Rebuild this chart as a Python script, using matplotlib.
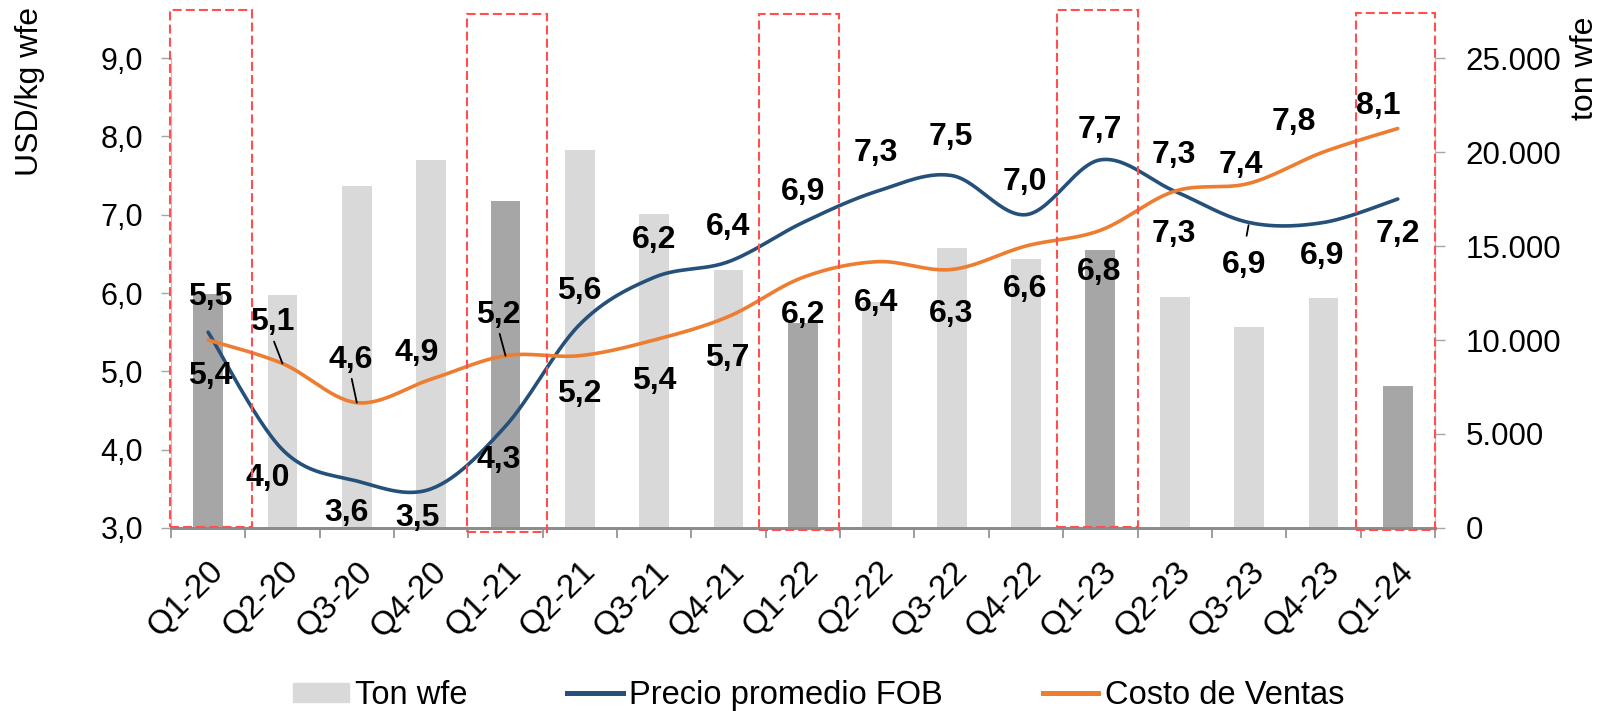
import numpy as np
import matplotlib
matplotlib.use('Agg')
import matplotlib.pyplot as plt
from matplotlib.patches import Rectangle, Patch
from matplotlib.lines import Line2D

plt.rcParams['font.family'] = ['Liberation Sans', 'DejaVu Sans']

# data
trimestres = ['Q1-20', 'Q2-20', 'Q3-20', 'Q4-20', 'Q1-21', 'Q2-21', 'Q3-21', 'Q4-21',
              'Q1-22', 'Q2-22', 'Q3-22', 'Q4-22', 'Q1-23', 'Q2-23', 'Q3-23', 'Q4-23', 'Q1-24']
ton_wfe = [12450, 12400, 18200, 19600, 17400, 20100, 16700, 13700,
           10900, 12000, 14900, 14300, 14800, 12300, 10700, 12250, 7550]
precio_fob = [5.5, 4.0, 3.6, 3.5, 4.3, 5.6, 6.2, 6.4, 6.9, 7.3, 7.5, 7.0, 7.7, 7.3, 6.9, 6.9, 7.2]
costo_ventas = [5.4, 5.1, 4.6, 4.9, 5.2, 5.2, 5.4, 5.7, 6.2, 6.4, 6.3, 6.6, 6.8, 7.3, 7.4, 7.8, 8.1]

# label offsets in pixels (dx, dy)
off_fob = [(2, 35), (-15, -28), (-10, -32), (-14, -29), (-7, -34), (-1, 33), (0, 37), (-1, 35),
           (0, 31), (-1, 38), (-1, 39), (-1, 33), (-1, 30), (-1, -43), (-5, -42), (-1, -33), (0, -35)]
off_costo = [(2, -36), (-10, 41), (-6, 43), (-14, 26), (-7, 41), (-1, -38), (0, -41), (-1, -41),
             (0, -38), (-1, -41), (-1, -44), (-1, -43), (-1, -42), (-1, 36), (-8, 18), (-30, 30), (-20, 23)]
# leader lines: index -> (shrink at text, shrink at line) in points
leader_fob = {14: (8, 2)}
leader_costo = {1: (1, 0), 2: (1, 0), 4: (1, 0)}

# red highlight boxes: (category, left, right, bottom, top)
cajas = [(0, -0.51, 0.59, 3.01, 9.61), (4, -0.52, 0.56, 2.95, 9.56), (8, -0.59, 0.49, 2.98, 9.56),
         (12, -0.58, 0.50, 3.01, 9.61), (16, -0.56, 0.50, 2.98, 9.58)]

azul = '#24507a'
naranja = '#ed7d31'
gris_claro = '#d9d9d9'
gris_oscuro = '#a6a6a6'
rojo = '#ff4f4f'


def suavizar(x, y, n=30):
    # excel-like smoothed line (bezier through points)
    pts = np.column_stack([x, y]).astype(float)
    P = np.vstack([pts[0], pts, pts[-1]])
    out = []
    t = np.linspace(0, 1, n)[:, None]
    for i in range(1, len(P) - 2):
        p0, p1, p2, p3 = P[i - 1], P[i], P[i + 1], P[i + 2]
        c1 = p1 + (p2 - p0) / 6
        c2 = p2 - (p3 - p1) / 6
        out.append((1 - t) ** 3 * p1 + 3 * (1 - t) ** 2 * t * c1 + 3 * (1 - t) * t ** 2 * c2 + t ** 3 * p2)
    return np.vstack(out)


x = np.arange(len(trimestres))

fig = plt.figure(figsize=(15.99, 7.11), dpi=100)
ax = fig.add_axes([0.1069, 0.2574, 0.7905, 0.661])
ax2 = ax.twinx()

colores = [gris_oscuro if t.startswith('Q1') else gris_claro for t in trimestres]
ax2.bar(x, ton_wfe, width=0.4, color=colores, zorder=1)
ax2.set_ylim(0, 25000)
ax2.set_yticks(np.arange(0, 25001, 5000))
ax2.set_yticklabels([f'{v:,}'.replace(',', '.') for v in range(0, 25001, 5000)])

ax.set_zorder(ax2.get_zorder() + 1)
ax.patch.set_visible(False)

s = suavizar(x, precio_fob)
ax.plot(s[:, 0], s[:, 1], color=azul, lw=2.6, solid_capstyle='round')
s = suavizar(x, costo_ventas)
ax.plot(s[:, 0], s[:, 1], color=naranja, lw=2.6, solid_capstyle='round')

ax.set_xlim(-0.5, len(x) - 0.5)
ax.set_ylim(3, 9)
ax.set_yticks(np.arange(3, 9.01, 1))
ax.set_yticklabels([f'{v:.1f}'.replace('.', ',') for v in np.arange(3, 9.01, 1)])

for serie, offs, leaders in [(precio_fob, off_fob, leader_fob), (costo_ventas, off_costo, leader_costo)]:
    for i, v in enumerate(serie):
        dx, dy = offs[i]
        kw = {}
        if i in leaders:
            sa, sb = leaders[i]
            kw['arrowprops'] = dict(arrowstyle='-', color='black', lw=1.3, shrinkA=sa, shrinkB=sb,
                                    relpos=(0.5, 0.0) if dy > 0 else (0.5, 1.0))
        ax.annotate(f'{v:.1f}'.replace('.', ','), xy=(i, v), xytext=(dx, dy),
                    textcoords='offset pixels', ha='center', va='center',
                    fontsize=23, fontweight='bold', color='black', **kw)

for i, l, r, b, t in cajas:
    ax.add_patch(Rectangle((i + l, b), r - l, t - b, fill=False, edgecolor=rojo,
                           lw=1.5, ls=(0, (4.3, 2)), clip_on=False, zorder=5))

# axes styling
ax.set_xticks(np.arange(-0.5, len(x), 1), minor=False)
ax.set_xticklabels([])
ax.set_xticks(x, minor=True)
ax.set_xticklabels(trimestres, minor=True, rotation=45, ha='right', va='top',
                   rotation_mode='anchor', fontsize=24)
ax.tick_params(axis='x', which='minor', length=0, pad=20)
ax.tick_params(axis='x', which='major', length=7, width=1.2, color='#8c8c8c')
ax.tick_params(axis='y', length=7, width=1, color='#a6a6a6', labelsize=22, pad=13)
ax2.tick_params(axis='y', length=7, width=1, color='#a6a6a6', labelsize=22.5, pad=15)

for a in (ax, ax2):
    a.spines['top'].set_visible(False)
    a.spines['left'].set_color('#bfbfbf')
    a.spines['right'].set_color('#bfbfbf')
    a.spines['bottom'].set_color('#8c8c8c')
    a.spines['bottom'].set_linewidth(2)

fig.text(0.019, 0.871, 'USD/kg wfe', rotation=90, ha='center', va='center', fontsize=23)
fig.text(0.991, 0.904, 'ton wfe', rotation=90, ha='center', va='center', fontsize=23)

handles = [Patch(color=gris_claro), Line2D([], [], color=azul, lw=3.6), Line2D([], [], color=naranja, lw=3.6)]
fig.legend(handles, ['Ton wfe', 'Precio promedio FOB', 'Costo de Ventas'], loc='center',
           bbox_to_anchor=(0.512, 0.022), ncol=3, frameon=False, fontsize=23.5,
           handlelength=1.7, handleheight=0.5, handletextpad=0.2, columnspacing=3.05)

fig.savefig('out.png', dpi=100)
